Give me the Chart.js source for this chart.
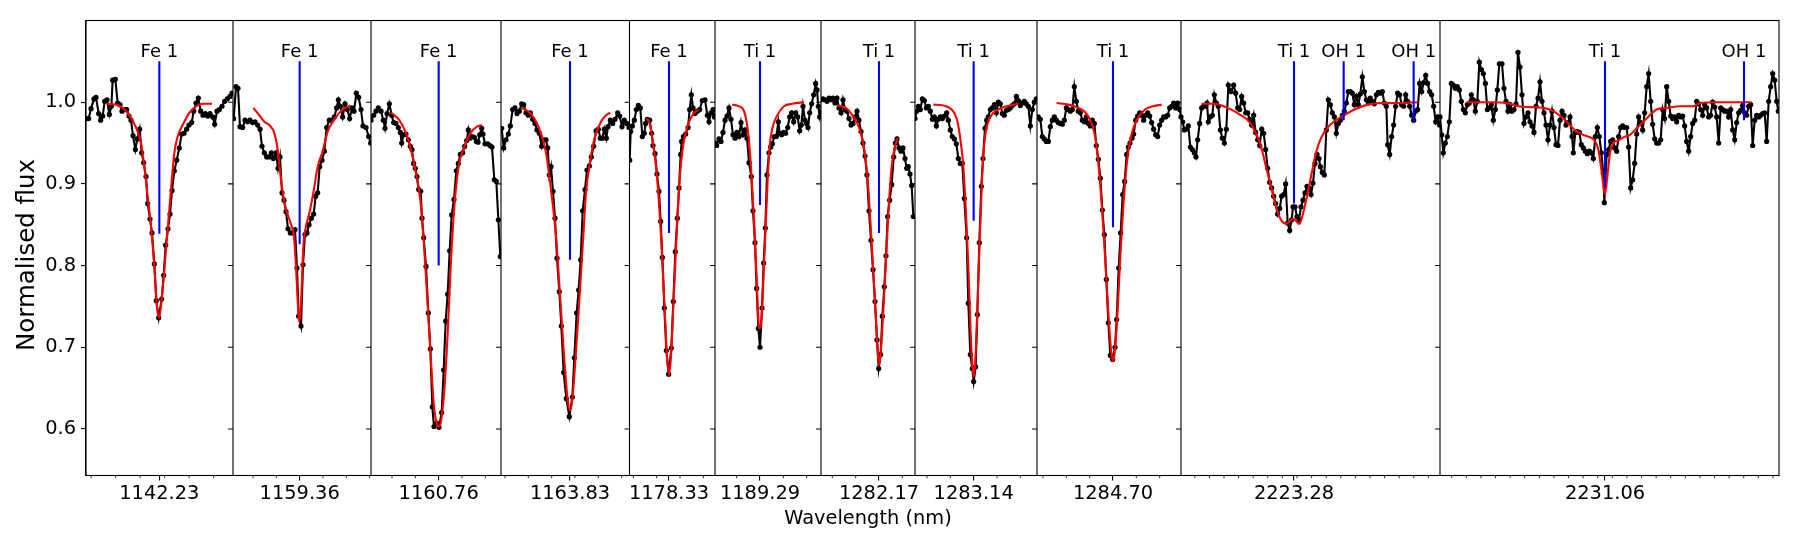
<!DOCTYPE html>
<html>
<head>
<meta charset="utf-8">
<script src="https://cdn.jsdelivr.net/npm/chart.js@4.4.1/dist/chart.umd.min.js"></script>
<style>
  html, body { margin: 0; padding: 0; background: #fff; }
  #wrap { width: 1800px; height: 550px; }
</style>
</head>
<body>
<div id="wrap"><canvas id="spectrum" width="1800" height="550"></canvas></div>
<script>
// line centres (nm), one panel per line
const lineCentres = [1142.23, 1159.36, 1160.76, 1163.83, 1178.33, 1189.29, 1282.17, 1283.14, 1284.70, 2223.28, 2231.06];
// panel window, offsets from the line centre (nm)
const panelLo = [-0.220, -0.200, -0.203, -0.207, -0.1185, -0.135, -0.174, -0.176, -0.228, -0.339, -0.495];
const panelHi = [0.221, 0.214, 0.187, 0.1785, 0.138, 0.183, 0.108, 0.190, 0.204, 0.438, 0.522];
const minorStep = [0.0735, 0.07, 0.07, 0.07, 0.07, 0.07, 0.07, 0.07, 0.07, 0.0438, 0.0438];
const minorPhase = [0.016, 0, 0, -0.055, -0.037, 0, 0, 0, 0, 0.009, 0.022];

// line markers
const markPanel = [0, 1, 2, 3, 4, 5, 6, 7, 8, 9, 9, 9, 10, 10];
const markOffset = [0, 0, 0, 0, 0, 0, 0, 0, 0, 0, 0.149, 0.359, 0, 0.417];
const markSpecies = ['Fe 1', 'Fe 1', 'Fe 1', 'Fe 1', 'Fe 1', 'Ti 1', 'Ti 1', 'Ti 1', 'Ti 1', 'Ti 1', 'OH 1', 'OH 1', 'Ti 1', 'OH 1'];
const markDepth = [0.839, 0.826, 0.800, 0.807, 0.840, 0.874, 0.840, 0.855, 0.847, 0.876, 0.978, 0.976, 0.897, 0.978];
const markTop = 1.05;

const yTicks = [0.6, 0.7, 0.8, 0.9, 1.0];

// observed spectrum [offset nm, normalised flux]
const obs1 = [[-0.220,0.980],[-0.212,0.980],[-0.205,0.992],[-0.196,1.004],[-0.190,1.006],[-0.182,0.986],[-0.176,0.978],[-0.170,0.983],[-0.164,1.001],[-0.157,1.003],[-0.150,0.985],[-0.144,0.995],[-0.140,1.027],[-0.132,1.028],[-0.125,0.999],[-0.118,0.997],[-0.112,0.989],[-0.105,0.991],[-0.098,0.991],[-0.091,0.983],[-0.085,0.978],[-0.079,0.959],[-0.072,0.942],[-0.066,0.955],[-0.059,0.967],[-0.053,0.938],[-0.047,0.926],[-0.040,0.909],[-0.035,0.876],[-0.028,0.857],[-0.022,0.840],[-0.015,0.802],[-0.009,0.757],[-0.002,0.736],[0.007,0.759],[0.013,0.788],[0.019,0.825],[0.026,0.845],[0.032,0.863],[0.038,0.892],[0.045,0.916],[0.052,0.929],[0.060,0.944],[0.067,0.961],[0.074,0.962],[0.082,0.967],[0.089,0.972],[0.097,0.975],[0.103,0.989],[0.110,0.999],[0.117,1.005],[0.124,0.989],[0.131,0.984],[0.138,0.986],[0.145,0.983],[0.152,0.986],[0.160,0.982],[0.166,0.973],[0.173,0.989],[0.180,0.991],[0.188,0.995],[0.196,1.001],[0.204,1.004],[0.212,1.007],[0.218,1.011]];
const obs2 = [[-0.198,0.980],[-0.191,1.019],[-0.185,1.017],[-0.179,0.970],[-0.171,0.969],[-0.164,0.978],[-0.156,0.976],[-0.149,0.978],[-0.141,0.975],[-0.134,0.976],[-0.126,0.972],[-0.119,0.967],[-0.113,0.946],[-0.106,0.938],[-0.099,0.933],[-0.092,0.933],[-0.085,0.938],[-0.079,0.931],[-0.071,0.938],[-0.065,0.919],[-0.059,0.933],[-0.053,0.889],[-0.047,0.880],[-0.041,0.866],[-0.035,0.845],[-0.028,0.840],[-0.021,0.840],[-0.014,0.844],[-0.008,0.797],[-0.003,0.738],[0.004,0.726],[0.010,0.801],[0.016,0.838],[0.022,0.840],[0.028,0.850],[0.035,0.858],[0.042,0.863],[0.048,0.885],[0.054,0.889],[0.060,0.921],[0.067,0.929],[0.074,0.940],[0.081,0.969],[0.089,0.978],[0.096,0.978],[0.104,0.982],[0.111,0.993],[0.116,1.003],[0.122,0.995],[0.129,0.982],[0.136,0.998],[0.143,0.991],[0.150,0.980],[0.157,0.993],[0.163,0.989],[0.170,1.011],[0.177,1.006],[0.184,0.991],[0.190,0.971],[0.199,0.969],[0.207,0.958],[0.213,0.950]];
const obs3 = [[-0.203,0.978],[-0.195,0.984],[-0.188,0.989],[-0.181,0.993],[-0.173,0.989],[-0.166,0.978],[-0.161,0.968],[-0.155,0.986],[-0.148,0.998],[-0.141,0.984],[-0.135,0.975],[-0.128,0.974],[-0.121,0.969],[-0.115,0.963],[-0.111,0.950],[-0.105,0.960],[-0.098,0.961],[-0.091,0.954],[-0.085,0.946],[-0.080,0.942],[-0.075,0.925],[-0.070,0.919],[-0.065,0.909],[-0.060,0.893],[-0.054,0.891],[-0.050,0.858],[-0.045,0.834],[-0.038,0.799],[-0.031,0.742],[-0.025,0.698],[-0.019,0.627],[-0.014,0.603],[-0.006,0.607],[0.001,0.602],[0.009,0.620],[0.015,0.672],[0.021,0.732],[0.027,0.765],[0.033,0.818],[0.039,0.862],[0.046,0.881],[0.053,0.916],[0.059,0.925],[0.065,0.936],[0.072,0.938],[0.078,0.946],[0.084,0.953],[0.089,0.966],[0.094,0.956],[0.100,0.958],[0.107,0.957],[0.113,0.952],[0.118,0.951],[0.123,0.960],[0.129,0.968],[0.133,0.961],[0.139,0.949],[0.147,0.949],[0.154,0.947],[0.160,0.945],[0.167,0.905],[0.173,0.903],[0.179,0.856],[0.185,0.811]];
const obs4 = [[-0.205,0.968],[-0.199,0.944],[-0.192,0.954],[-0.185,0.961],[-0.179,0.971],[-0.172,0.991],[-0.165,0.993],[-0.159,0.986],[-0.152,0.989],[-0.145,0.998],[-0.139,0.997],[-0.132,0.987],[-0.125,0.984],[-0.119,0.987],[-0.112,0.979],[-0.105,0.974],[-0.099,0.966],[-0.092,0.962],[-0.085,0.946],[-0.079,0.954],[-0.072,0.954],[-0.067,0.944],[-0.062,0.911],[-0.057,0.921],[-0.051,0.891],[-0.045,0.858],[-0.039,0.809],[-0.032,0.768],[-0.026,0.726],[-0.019,0.669],[-0.011,0.637],[-0.002,0.615],[0.007,0.639],[0.013,0.687],[0.020,0.742],[0.026,0.770],[0.032,0.807],[0.038,0.867],[0.045,0.893],[0.051,0.917],[0.058,0.922],[0.064,0.933],[0.071,0.946],[0.078,0.965],[0.085,0.967],[0.091,0.956],[0.097,0.956],[0.103,0.967],[0.109,0.956],[0.114,0.970],[0.121,0.978],[0.128,0.974],[0.135,0.979],[0.143,0.987],[0.149,0.983],[0.156,0.970],[0.163,0.978],[0.170,0.974],[0.177,0.969]];
const obs5 = [[-0.118,0.929],[-0.115,0.964],[-0.110,0.971],[-0.104,0.978],[-0.098,0.991],[-0.092,0.996],[-0.086,0.993],[-0.080,0.958],[-0.074,0.962],[-0.070,0.974],[-0.065,0.979],[-0.058,0.978],[-0.052,0.962],[-0.048,0.947],[-0.042,0.937],[-0.036,0.912],[-0.030,0.891],[-0.025,0.854],[-0.020,0.810],[-0.014,0.748],[-0.008,0.696],[-0.001,0.667],[0.007,0.699],[0.013,0.756],[0.019,0.817],[0.025,0.858],[0.030,0.895],[0.035,0.936],[0.038,0.952],[0.043,0.958],[0.050,0.961],[0.057,0.969],[0.062,0.991],[0.067,1.009],[0.072,0.993],[0.078,0.986],[0.085,0.989],[0.092,0.991],[0.100,1.002],[0.108,1.003],[0.115,0.984],[0.120,0.976],[0.126,0.987],[0.132,0.991],[0.136,0.982]];
const obs6 = [[-0.135,0.950],[-0.130,0.947],[-0.123,0.955],[-0.117,0.952],[-0.111,0.963],[-0.105,0.978],[-0.099,0.983],[-0.093,0.993],[-0.087,0.979],[-0.081,0.960],[-0.075,0.956],[-0.069,0.963],[-0.063,0.958],[-0.057,0.975],[-0.051,0.960],[-0.045,0.966],[-0.039,0.956],[-0.033,0.926],[-0.026,0.909],[-0.021,0.867],[-0.015,0.828],[-0.010,0.772],[-0.005,0.723],[0.000,0.700],[0.006,0.748],[0.011,0.803],[0.016,0.846],[0.021,0.911],[0.027,0.938],[0.032,0.945],[0.037,0.949],[0.043,0.958],[0.049,0.958],[0.055,0.976],[0.059,0.962],[0.065,0.960],[0.071,0.963],[0.077,0.962],[0.083,0.969],[0.089,0.982],[0.095,0.987],[0.101,0.976],[0.107,0.987],[0.113,0.982],[0.119,0.965],[0.124,0.972],[0.129,0.995],[0.135,0.978],[0.140,0.974],[0.144,0.969],[0.149,0.987],[0.155,0.998],[0.161,1.009],[0.167,1.023],[0.171,1.015],[0.175,0.995],[0.179,0.982],[0.183,0.989]];
const obs7 = [[-0.173,1.003],[-0.168,1.004],[-0.162,1.003],[-0.156,1.001],[-0.150,1.005],[-0.144,1.003],[-0.138,1.005],[-0.132,0.999],[-0.126,1.005],[-0.120,0.993],[-0.114,0.987],[-0.108,1.003],[-0.102,0.991],[-0.096,0.989],[-0.090,0.980],[-0.084,0.972],[-0.078,0.974],[-0.072,0.982],[-0.066,0.989],[-0.060,0.978],[-0.054,0.964],[-0.048,0.950],[-0.042,0.934],[-0.036,0.911],[-0.030,0.867],[-0.024,0.831],[-0.018,0.795],[-0.012,0.756],[-0.006,0.709],[-0.001,0.674],[0.005,0.691],[0.010,0.738],[0.016,0.774],[0.021,0.812],[0.026,0.860],[0.032,0.880],[0.038,0.899],[0.044,0.933],[0.049,0.950],[0.054,0.955],[0.060,0.944],[0.066,0.940],[0.072,0.944],[0.078,0.931],[0.083,0.919],[0.088,0.921],[0.093,0.912],[0.098,0.898],[0.103,0.860]];
const obs8 = [[-0.176,0.980],[-0.171,0.989],[-0.166,0.995],[-0.160,0.991],[-0.154,1.004],[-0.148,1.002],[-0.142,0.993],[-0.136,0.995],[-0.130,0.989],[-0.124,0.979],[-0.118,0.982],[-0.112,0.971],[-0.106,0.979],[-0.100,0.982],[-0.094,0.980],[-0.088,0.983],[-0.081,0.987],[-0.076,0.978],[-0.070,0.966],[-0.064,0.958],[-0.058,0.955],[-0.052,0.949],[-0.046,0.931],[-0.040,0.925],[-0.034,0.925],[-0.028,0.882],[-0.021,0.834],[-0.016,0.754],[-0.010,0.691],[-0.004,0.674],[0.000,0.658],[0.006,0.676],[0.011,0.740],[0.017,0.828],[0.023,0.897],[0.028,0.931],[0.034,0.968],[0.039,0.978],[0.044,0.982],[0.050,0.991],[0.056,0.993],[0.062,0.997],[0.068,0.987],[0.074,1.000],[0.080,0.998],[0.086,0.986],[0.092,0.984],[0.098,0.990],[0.104,0.991],[0.110,0.993],[0.116,0.996],[0.122,0.998],[0.128,1.007],[0.134,1.002],[0.140,0.996],[0.146,0.999],[0.152,1.001],[0.158,0.998],[0.164,0.995],[0.170,0.971],[0.176,0.991],[0.182,1.000],[0.188,1.004]];
const obs9 = [[-0.224,0.982],[-0.218,0.979],[-0.212,0.958],[-0.206,0.955],[-0.200,0.952],[-0.194,0.952],[-0.188,0.970],[-0.182,0.978],[-0.176,0.982],[-0.170,0.978],[-0.164,0.975],[-0.158,0.974],[-0.152,0.973],[-0.146,0.978],[-0.140,0.993],[-0.134,0.991],[-0.128,0.989],[-0.122,0.991],[-0.116,1.019],[-0.110,1.001],[-0.104,0.989],[-0.098,0.987],[-0.092,0.978],[-0.086,0.976],[-0.080,0.982],[-0.074,0.974],[-0.068,0.971],[-0.062,0.978],[-0.056,0.974],[-0.050,0.947],[-0.044,0.930],[-0.038,0.907],[-0.032,0.868],[-0.026,0.838],[-0.020,0.783],[-0.014,0.730],[-0.008,0.690],[-0.001,0.685],[0.006,0.700],[0.011,0.734],[0.017,0.797],[0.023,0.840],[0.029,0.887],[0.035,0.903],[0.041,0.936],[0.046,0.945],[0.051,0.950],[0.057,0.956],[0.062,0.961],[0.068,0.978],[0.074,0.983],[0.080,0.987],[0.086,0.984],[0.092,0.978],[0.098,0.984],[0.104,0.987],[0.110,0.983],[0.116,0.975],[0.122,0.967],[0.128,0.960],[0.134,0.958],[0.140,0.972],[0.146,0.978],[0.152,0.982],[0.158,0.982],[0.164,0.984],[0.170,0.993],[0.176,0.995],[0.182,0.999],[0.188,0.993],[0.194,0.999],[0.200,0.991],[0.204,0.982]];
const obs10 = [[-0.339,0.982],[-0.334,0.976],[-0.329,0.966],[-0.323,0.967],[-0.317,0.971],[-0.311,0.945],[-0.305,0.942],[-0.299,0.938],[-0.294,0.933],[-0.289,0.954],[-0.283,0.974],[-0.277,0.993],[-0.271,0.995],[-0.265,0.995],[-0.261,0.999],[-0.257,0.976],[-0.251,0.982],[-0.245,0.984],[-0.239,1.009],[-0.233,0.999],[-0.227,0.995],[-0.221,0.966],[-0.215,0.956],[-0.209,0.950],[-0.203,0.967],[-0.197,1.021],[-0.189,1.013],[-0.181,1.021],[-0.175,1.011],[-0.169,0.993],[-0.163,0.991],[-0.157,1.007],[-0.151,0.999],[-0.145,0.987],[-0.139,0.987],[-0.133,0.979],[-0.127,0.972],[-0.121,0.984],[-0.115,0.963],[-0.109,0.954],[-0.103,0.947],[-0.097,0.967],[-0.091,0.962],[-0.085,0.942],[-0.079,0.919],[-0.073,0.902],[-0.067,0.895],[-0.061,0.885],[-0.055,0.876],[-0.049,0.863],[-0.043,0.870],[-0.037,0.885],[-0.031,0.887],[-0.025,0.900],[-0.019,0.852],[-0.013,0.843],[-0.007,0.856],[-0.003,0.872],[0.003,0.872],[0.009,0.860],[0.015,0.856],[0.021,0.872],[0.027,0.880],[0.033,0.889],[0.039,0.897],[0.045,0.895],[0.051,0.887],[0.057,0.901],[0.063,0.925],[0.069,0.936],[0.075,0.931],[0.079,0.921],[0.085,0.914],[0.091,0.911],[0.097,0.966],[0.103,1.003],[0.109,0.997],[0.115,0.987],[0.121,0.982],[0.127,0.962],[0.133,0.974],[0.139,0.978],[0.145,0.984],[0.151,0.989],[0.157,0.999],[0.163,1.013],[0.169,1.013],[0.175,1.011],[0.181,0.997],[0.187,1.007],[0.193,0.997],[0.199,1.010],[0.205,1.031],[0.211,1.013],[0.217,1.003],[0.223,0.999],[0.229,1.005],[0.235,1.001],[0.241,0.998],[0.247,1.009],[0.253,1.012],[0.259,1.011],[0.265,1.013],[0.271,0.999],[0.277,0.995],[0.281,0.948],[0.287,0.936],[0.293,0.958],[0.299,0.972],[0.305,0.995],[0.311,1.011],[0.317,1.009],[0.323,0.997],[0.329,0.995],[0.335,1.009],[0.341,1.001],[0.347,0.995],[0.353,0.984],[0.359,0.978],[0.365,0.989],[0.371,0.991],[0.377,1.023],[0.383,1.013],[0.389,1.024],[0.395,1.033],[0.401,1.023],[0.407,1.013],[0.413,1.009],[0.419,0.995],[0.425,0.976],[0.431,0.982],[0.437,0.972]];
const obs11 = [[-0.495,0.982],[-0.490,0.960],[-0.485,0.938],[-0.479,0.950],[-0.473,0.958],[-0.467,0.976],[-0.461,1.023],[-0.455,1.021],[-0.449,1.017],[-0.443,1.019],[-0.437,1.015],[-0.431,1.001],[-0.425,0.991],[-0.419,0.987],[-0.413,0.997],[-0.407,0.999],[-0.401,1.009],[-0.395,1.003],[-0.389,0.989],[-0.383,1.001],[-0.377,1.049],[-0.371,1.040],[-0.365,1.035],[-0.359,1.023],[-0.353,0.991],[-0.347,0.993],[-0.341,0.997],[-0.335,0.978],[-0.329,0.991],[-0.323,1.015],[-0.317,1.047],[-0.309,1.047],[-0.303,1.017],[-0.297,1.001],[-0.291,0.989],[-0.285,0.997],[-0.279,0.989],[-0.273,0.991],[-0.267,0.998],[-0.261,1.061],[-0.255,1.043],[-0.249,1.009],[-0.243,0.974],[-0.237,0.982],[-0.231,0.987],[-0.225,0.976],[-0.219,0.971],[-0.213,0.963],[-0.207,0.995],[-0.201,1.005],[-0.195,1.025],[-0.189,1.001],[-0.183,0.987],[-0.177,0.972],[-0.171,0.954],[-0.165,0.972],[-0.159,0.989],[-0.153,0.969],[-0.147,0.948],[-0.141,0.947],[-0.135,0.978],[-0.129,0.989],[-0.123,0.984],[-0.117,0.972],[-0.111,0.975],[-0.105,0.982],[-0.099,0.958],[-0.095,0.938],[-0.089,0.963],[-0.083,0.964],[-0.077,0.963],[-0.071,0.948],[-0.065,0.944],[-0.059,0.940],[-0.053,0.937],[-0.047,0.940],[-0.041,0.938],[-0.035,0.931],[-0.029,0.958],[-0.023,0.969],[-0.017,0.958],[-0.011,0.938],[-0.005,0.913],[-0.002,0.877],[0.005,0.936],[0.011,0.942],[0.017,0.952],[0.023,0.954],[0.029,0.944],[0.035,0.940],[0.041,0.958],[0.047,0.969],[0.053,0.971],[0.059,0.969],[0.065,0.969],[0.071,0.945],[0.077,0.895],[0.083,0.905],[0.089,0.925],[0.095,0.961],[0.101,0.982],[0.107,0.975],[0.113,0.966],[0.119,0.987],[0.125,1.019],[0.131,1.035],[0.137,1.001],[0.143,0.973],[0.149,0.955],[0.155,0.950],[0.161,0.950],[0.167,0.954],[0.173,0.991],[0.179,0.980],[0.185,1.019],[0.191,1.001],[0.197,0.983],[0.203,0.980],[0.209,0.982],[0.215,0.976],[0.221,0.984],[0.227,0.982],[0.233,0.983],[0.239,0.971],[0.245,0.952],[0.251,0.940],[0.257,0.958],[0.263,0.974],[0.269,0.978],[0.275,1.001],[0.281,0.998],[0.287,0.991],[0.293,0.984],[0.299,0.997],[0.305,0.993],[0.311,0.982],[0.317,0.984],[0.323,1.000],[0.329,0.994],[0.335,0.982],[0.341,0.950],[0.347,0.993],[0.353,0.991],[0.359,0.989],[0.365,0.989],[0.371,0.982],[0.377,0.991],[0.383,0.966],[0.389,0.954],[0.395,0.975],[0.401,0.987],[0.407,0.990],[0.413,0.996],[0.419,0.987],[0.425,0.984],[0.431,0.995],[0.437,0.997],[0.443,0.947],[0.449,0.978],[0.455,0.984],[0.461,0.982],[0.467,0.984],[0.473,0.986],[0.479,0.987],[0.485,0.952],[0.491,1.001],[0.497,1.019],[0.503,1.035],[0.509,1.027],[0.515,1.001],[0.520,0.989]];

// synthetic fit [offset nm, normalised flux]
const fit1 = [[-0.158,0.998],[-0.130,0.997],[-0.110,0.993],[-0.090,0.984],[-0.070,0.969],[-0.055,0.950],[-0.045,0.921],[-0.035,0.885],[-0.025,0.848],[-0.015,0.799],[-0.008,0.754],[-0.001,0.736],[0.006,0.754],[0.015,0.795],[0.025,0.844],[0.035,0.893],[0.045,0.938],[0.055,0.958],[0.070,0.972],[0.090,0.987],[0.110,0.995],[0.130,0.998],[0.158,0.998]];
const fit2 = [[-0.139,0.993],[-0.121,0.984],[-0.106,0.976],[-0.091,0.972],[-0.076,0.962],[-0.066,0.942],[-0.056,0.905],[-0.043,0.872],[-0.029,0.854],[-0.016,0.831],[-0.009,0.782],[-0.003,0.737],[0.000,0.731],[0.005,0.762],[0.011,0.823],[0.019,0.848],[0.029,0.864],[0.041,0.889],[0.054,0.921],[0.069,0.940],[0.084,0.964],[0.104,0.979],[0.129,0.991],[0.152,0.996]];
const fit3 = [[-0.143,0.987],[-0.118,0.978],[-0.098,0.962],[-0.083,0.942],[-0.068,0.913],[-0.055,0.880],[-0.045,0.831],[-0.035,0.766],[-0.025,0.697],[-0.015,0.632],[-0.006,0.607],[0.000,0.603],[0.007,0.609],[0.017,0.648],[0.027,0.717],[0.037,0.807],[0.047,0.872],[0.059,0.919],[0.077,0.946],[0.097,0.963],[0.115,0.970],[0.129,0.972]];
const fit4 = [[-0.147,0.993],[-0.127,0.989],[-0.107,0.980],[-0.087,0.962],[-0.072,0.938],[-0.057,0.893],[-0.042,0.836],[-0.029,0.758],[-0.017,0.685],[-0.007,0.636],[0.000,0.623],[0.007,0.636],[0.017,0.689],[0.028,0.758],[0.038,0.823],[0.048,0.889],[0.061,0.929],[0.075,0.958],[0.093,0.976],[0.108,0.984],[0.121,0.987]];
const fit5 = [[-0.068,0.980],[-0.058,0.974],[-0.048,0.950],[-0.038,0.917],[-0.028,0.864],[-0.020,0.807],[-0.012,0.738],[-0.006,0.689],[0.000,0.666],[0.006,0.689],[0.013,0.750],[0.022,0.831],[0.032,0.905],[0.042,0.946],[0.055,0.970],[0.070,0.984],[0.088,0.991]];
const fit6 = [[-0.083,0.997],[-0.063,0.995],[-0.048,0.989],[-0.038,0.970],[-0.030,0.938],[-0.023,0.893],[-0.016,0.840],[-0.010,0.783],[-0.004,0.729],[0.000,0.723],[0.005,0.738],[0.011,0.791],[0.017,0.848],[0.023,0.905],[0.029,0.946],[0.037,0.968],[0.052,0.984],[0.072,0.995],[0.097,0.998],[0.132,1.000]];
const fit7 = [[-0.125,0.996],[-0.100,0.993],[-0.080,0.984],[-0.065,0.974],[-0.052,0.958],[-0.042,0.936],[-0.034,0.905],[-0.026,0.856],[-0.018,0.799],[-0.010,0.742],[-0.004,0.697],[0.000,0.678],[0.005,0.693],[0.012,0.738],[0.020,0.799],[0.028,0.864],[0.038,0.921],[0.048,0.946],[0.056,0.956]];
const fit8 = [[-0.121,0.997],[-0.091,0.996],[-0.066,0.991],[-0.051,0.980],[-0.041,0.958],[-0.031,0.921],[-0.023,0.864],[-0.016,0.799],[-0.010,0.729],[-0.005,0.685],[0.000,0.664],[0.005,0.685],[0.011,0.746],[0.018,0.831],[0.025,0.905],[0.032,0.950],[0.042,0.974],[0.059,0.987],[0.084,0.993],[0.109,0.996],[0.134,0.998]];
const fit9 = [[-0.169,0.999],[-0.134,0.997],[-0.104,0.993],[-0.082,0.987],[-0.064,0.974],[-0.052,0.954],[-0.042,0.917],[-0.032,0.864],[-0.022,0.799],[-0.014,0.742],[-0.006,0.697],[0.000,0.683],[0.006,0.697],[0.014,0.746],[0.022,0.812],[0.031,0.873],[0.041,0.923],[0.054,0.958],[0.071,0.978],[0.096,0.991],[0.121,0.995],[0.146,0.997]];
const fit10 = [[-0.277,0.998],[-0.239,0.998],[-0.199,0.993],[-0.159,0.984],[-0.134,0.976],[-0.114,0.962],[-0.099,0.946],[-0.084,0.921],[-0.069,0.897],[-0.054,0.872],[-0.039,0.856],[-0.024,0.851],[-0.014,0.854],[-0.004,0.857],[0.003,0.856],[0.016,0.851],[0.026,0.862],[0.039,0.885],[0.053,0.913],[0.066,0.938],[0.081,0.956],[0.101,0.969],[0.126,0.978],[0.151,0.984],[0.181,0.991],[0.221,0.997],[0.261,0.999],[0.311,0.999],[0.373,1.000]];
const fit11 = [[-0.415,1.000],[-0.345,1.000],[-0.295,0.999],[-0.260,0.995],[-0.225,0.994],[-0.185,0.993],[-0.155,0.989],[-0.125,0.980],[-0.105,0.972],[-0.085,0.964],[-0.065,0.960],[-0.045,0.957],[-0.033,0.954],[-0.020,0.942],[-0.010,0.915],[0.000,0.887],[0.008,0.913],[0.015,0.938],[0.025,0.950],[0.040,0.953],[0.055,0.957],[0.075,0.960],[0.095,0.968],[0.125,0.980],[0.155,0.991],[0.185,0.993],[0.225,0.995],[0.265,0.995],[0.285,0.999],[0.335,1.000],[0.440,1.000]];

const observed = [obs1, obs2, obs3, obs4, obs5, obs6, obs7, obs8, obs9, obs10, obs11];
const fitted = [fit1, fit2, fit3, fit4, fit5, fit6, fit7, fit8, fit9, fit10, fit11];

// panels are laid side by side on one continuous x scale
const panelStart = [];
let acc = 0;
panelLo.forEach((lo, i) => { panelStart.push(acc); acc += panelHi[i] - lo; });
const xTotal = acc;
const toX = (p, d) => panelStart[p] + d - panelLo[p];

const FONT = "'DejaVu Sans', sans-serif";
Chart.defaults.font.family = FONT;
Chart.defaults.color = '#000';

const datasets = [];
markPanel.forEach((p, i) => {
    const x = toX(p, markOffset[i]);
    datasets.push({
        data: [{x: x, y: markDepth[i]}, {x: x, y: markTop}],
        borderColor: '#0000ff', borderWidth: 2.1, pointRadius: 0, order: 0, panel: p
    });
});
fitted.forEach((f, p) => {
    datasets.push({
        data: f.map(([d, v]) => ({x: toX(p, d), y: v})),
        borderColor: '#ff0000', borderWidth: 2.1, pointRadius: 0,
        cubicInterpolationMode: 'monotone', order: 1, panel: p
    });
});
observed.forEach((o, p) => {
    datasets.push({
        data: o.map(([d, v]) => ({x: toX(p, d), y: v})),
        borderColor: '#000', borderWidth: 2.1, pointRadius: 2.6, pointBorderWidth: 0,
        pointBackgroundColor: '#000', order: 2, panel: p
    });
});

const panelFrame = {
    id: 'panelFrame',
    beforeDatasetDraw(chart, args) {
        const p = chart.data.datasets[args.index].panel;
        const {ctx, chartArea} = chart;
        const xs = chart.scales.x;
        const l = xs.getPixelForValue(panelStart[p]);
        const r = xs.getPixelForValue(panelStart[p] + panelHi[p] - panelLo[p]);
        ctx.save();
        ctx.beginPath();
        ctx.rect(l, chartArea.top, r - l, chartArea.bottom - chartArea.top);
        ctx.clip();
    },
    afterDatasetDraw(chart) {
        chart.ctx.restore();
    },
    afterDraw(chart) {
        const {ctx, chartArea} = chart;
        const xs = chart.scales.x, ys = chart.scales.y;
        ctx.save();
        ctx.strokeStyle = '#000';
        ctx.lineWidth = 1.1;
        ctx.strokeRect(chartArea.left, chartArea.top, chartArea.right - chartArea.left, chartArea.bottom - chartArea.top);
        for (let p = 1; p < panelStart.length; p++) {
            const bx = xs.getPixelForValue(panelStart[p]);
            ctx.beginPath();
            ctx.moveTo(bx, chartArea.top);
            ctx.lineTo(bx, chartArea.bottom);
            yTicks.forEach(v => {
                const py = ys.getPixelForValue(v);
                ctx.moveTo(bx - 4.9, py);
                ctx.lineTo(bx, py);
            });
            ctx.stroke();
        }
        // minor ticks
        ctx.lineWidth = 0.8;
        ctx.beginPath();
        panelStart.forEach((s, p) => {
            const kMin = Math.ceil((panelLo[p] - minorPhase[p]) / minorStep[p]);
            const kMax = Math.floor((panelHi[p] - minorPhase[p]) / minorStep[p]);
            for (let k = kMin; k <= kMax; k++) {
                const d = minorPhase[p] + k * minorStep[p];
                if (Math.abs(d) < 0.005) continue;
                const px = xs.getPixelForValue(toX(p, d));
                ctx.moveTo(px, chartArea.bottom);
                ctx.lineTo(px, chartArea.bottom + 2.8);
            }
        });
        ctx.stroke();
        // species labels
        ctx.fillStyle = '#000';
        ctx.font = '18px ' + FONT;
        ctx.textAlign = 'center';
        ctx.textBaseline = 'alphabetic';
        markPanel.forEach((p, i) => {
            const px = xs.getPixelForValue(toX(p, markOffset[i]));
            ctx.fillText(markSpecies[i], px, ys.getPixelForValue(markTop) - 4.3);
        });
        // axis label sits under the seventh panel
        ctx.font = '19.4px ' + FONT;
        const midPanel = 6;
        const cx = xs.getPixelForValue(panelStart[midPanel] + (panelHi[midPanel] - panelLo[midPanel]) / 2);
        ctx.fillText('Wavelength (nm)', cx, 524);
        // y label, a little below the axis centre as in the original
        ctx.font = '24.5px ' + FONT;
        ctx.translate(34, 255);
        ctx.rotate(-Math.PI / 2);
        ctx.fillText('Normalised flux', 0, 0);
        ctx.restore();
    }
};

new Chart(document.getElementById('spectrum').getContext('2d'), {
    type: 'line',
    data: {datasets: datasets},
    options: {
        responsive: false,
        animation: false,
        devicePixelRatio: 1,
        events: [],
        layout: {padding: {left: 0, right: 21, top: 20.5, bottom: 0}},
        elements: {line: {tension: 0}},
        plugins: {legend: {display: false}, tooltip: {enabled: false}},
        scales: {
            x: {
                type: 'linear',
                min: 0,
                max: xTotal,
                afterFit: (s) => { s.height = 74.5; },
                afterBuildTicks: (s) => { s.ticks = lineCentres.map((c, i) => ({value: toX(i, 0)})); },
                ticks: {
                    autoSkip: false,
                    maxRotation: 0,
                    padding: 2,
                    font: {size: 19.4},
                    color: '#000',
                    callback: (v, i) => lineCentres[i].toFixed(2)
                },
                grid: {drawOnChartArea: false, tickLength: 5, color: '#000', lineWidth: 1.1},
                border: {display: true, color: '#000', width: 1.1}
            },
            y: {
                min: 0.543,
                max: 1.1,
                afterFit: (s) => { s.width = 86; },
                afterBuildTicks: (s) => { s.ticks = yTicks.map(v => ({value: v})); },
                ticks: {
                    padding: 5,
                    font: {size: 19.4},
                    color: '#000',
                    callback: (v) => v.toFixed(1)
                },
                grid: {drawOnChartArea: false, tickLength: 5, color: '#000', lineWidth: 1.1},
                border: {display: true, color: '#000', width: 1.1}
            }
        }
    },
    plugins: [panelFrame]
});
</script>
</body>
</html>
